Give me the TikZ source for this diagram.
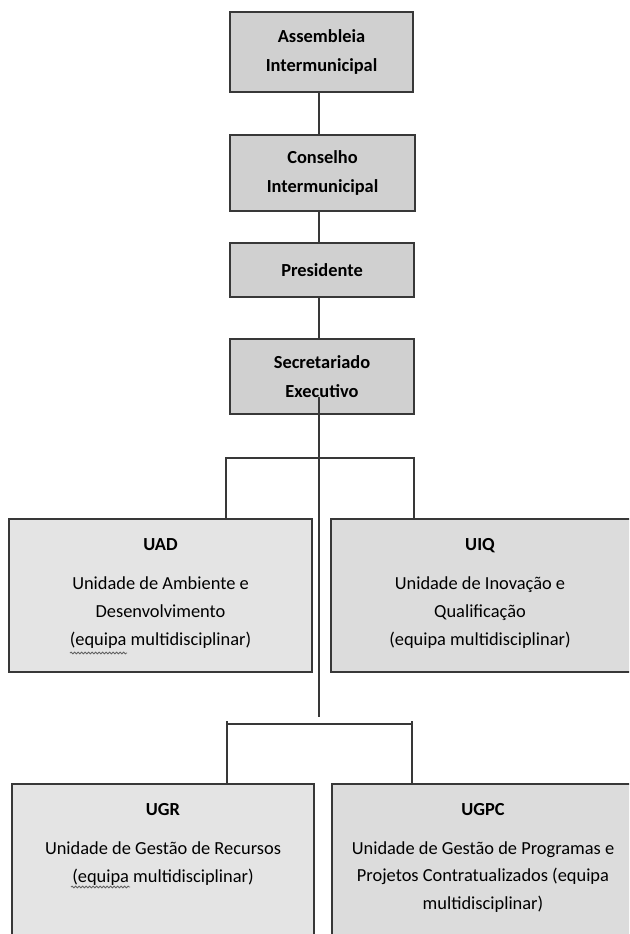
\documentclass[tikz,border=0pt]{standalone}
\usepackage{fontspec}
\setmainfont{Carlito}
\usetikzlibrary{decorations.pathmorphing}
\definecolor{topfill}{HTML}{D0D0D0}
\definecolor{lowfill}{HTML}{E4E4E4}
\definecolor{lowfillb}{HTML}{DCDCDC}
\definecolor{edge}{HTML}{383838}
\tikzset{
  box/.style={draw=edge, line width=2pt, rectangle, inner sep=0pt, align=center,
    font=\fontsize{18.4}{28}\selectfont},
  topbox/.style={box, fill=topfill, font=\fontsize{18.4}{29}\selectfont\bfseries},
  unitbox/.style={box, fill=lowfill},
  conn/.style={draw=edge, line width=2pt},
  squig/.style={draw=edge!80, line width=0.8pt, decorate, decoration={snake, amplitude=0.9pt, segment length=3.5pt}}
}
\begin{document}
\begin{tikzpicture}[x=1pt,y=-1pt]
\useasboundingbox (0,0) rectangle (629,934);
\fill[white] (0,0) rectangle (629,934);
\clip (0,0) rectangle (629,934);
% top chain
\node[topbox, minimum width=183pt, minimum height=80pt] (ass) at (321.5,52) {Assembleia\\Intermunicipal};
\node[topbox, minimum width=185pt, minimum height=76pt] (con) at (322.5,173) {Conselho\\Intermunicipal};
\node[topbox, minimum width=184pt, minimum height=54pt] (pre) at (322,270) {Presidente};
\node[topbox, minimum width=184pt, minimum height=75pt] (sec) at (322,376.5) {Secretariado\\Executivo};
% units
\node[unitbox, minimum width=303pt, minimum height=153pt] (uad) at (160.5,595.5) {};
\node[unitbox, fill=lowfillb, minimum width=300pt, minimum height=153pt] (uiq) at (481,595.5) {};
\node[unitbox, minimum width=302pt, minimum height=200pt] (ugr) at (163,884) {};
\node[unitbox, fill=lowfillb, minimum width=302pt, minimum height=200pt] (ugpc) at (483,884) {};
% texts
\node[font=\fontsize{18.4}{28}\selectfont\bfseries, anchor=base] (uadt) at (160.5,550) {UAD};
\node[font=\fontsize{18.4}{28}\selectfont, align=center, anchor=north] (uadx) at (160.5,573) {Unidade de Ambiente e\\Desenvolvimento\\(equipa multidisciplinar)};
\node[font=\fontsize{18.4}{28}\selectfont\bfseries, anchor=base] (uiqt) at (480,550) {UIQ};
\node[font=\fontsize{18.4}{28}\selectfont, align=center, anchor=north] (uiqx) at (480,573) {Unidade de Inovação e\\Qualificação\\(equipa multidisciplinar)};
\node[font=\fontsize{18.4}{28}\selectfont\bfseries, anchor=base] (ugrt) at (163,815) {UGR};
\node[font=\fontsize{18.4}{28}\selectfont, align=center, anchor=north] (ugrx) at (163,838) {Unidade de Gestão de Recursos\\(equipa multidisciplinar)};
\node[font=\fontsize{18.4}{28}\selectfont\bfseries, anchor=base] (ugpct) at (483,815) {UGPC};
\node[font=\fontsize{18.4}{27.5}\selectfont, align=center, anchor=north] (ugpcx) at (483,838) {Unidade de Gestão de Programas e\\Projetos Contratualizados (equipa\\multidisciplinar)};
% spell-check squiggles
\coordinate (sq1a) at (70,653); \coordinate (sq1b) at (127,653);
\draw[squig] (sq1a) -- (sq1b);
\coordinate (sq2a) at (71,887); \coordinate (sq2b) at (130,887);
\draw[squig] (sq2a) -- (sq2b);
% connectors
\draw[conn] (ass.south -| 319,0) -- (con.north -| 319,0);
\draw[conn] (con.south -| 319,0) -- (pre.north -| 319,0);
\draw[conn] (pre.south -| 319,0) -- (sec.north -| 319,0);
\coordinate (trunkTop) at (319,397);
\coordinate (trunkEnd) at (319,717);
\draw[conn] (trunkTop) -- (trunkEnd);
\coordinate (b1l) at (226,458); \coordinate (b1r) at (414,458);
\draw[conn] (uad.north -| b1l) -- (b1l) -- (b1r) -- (uiq.north -| b1r);
\coordinate (b2l) at (227,724); \coordinate (b2r) at (412,724);
\draw[conn] (b2l) -- (b2r);
\draw[conn] (ugr.north -| b2l) -- ([yshift=3pt]b2l);
\draw[conn] (ugpc.north -| b2r) -- ([yshift=3pt]b2r);
\end{tikzpicture}
\end{document}
